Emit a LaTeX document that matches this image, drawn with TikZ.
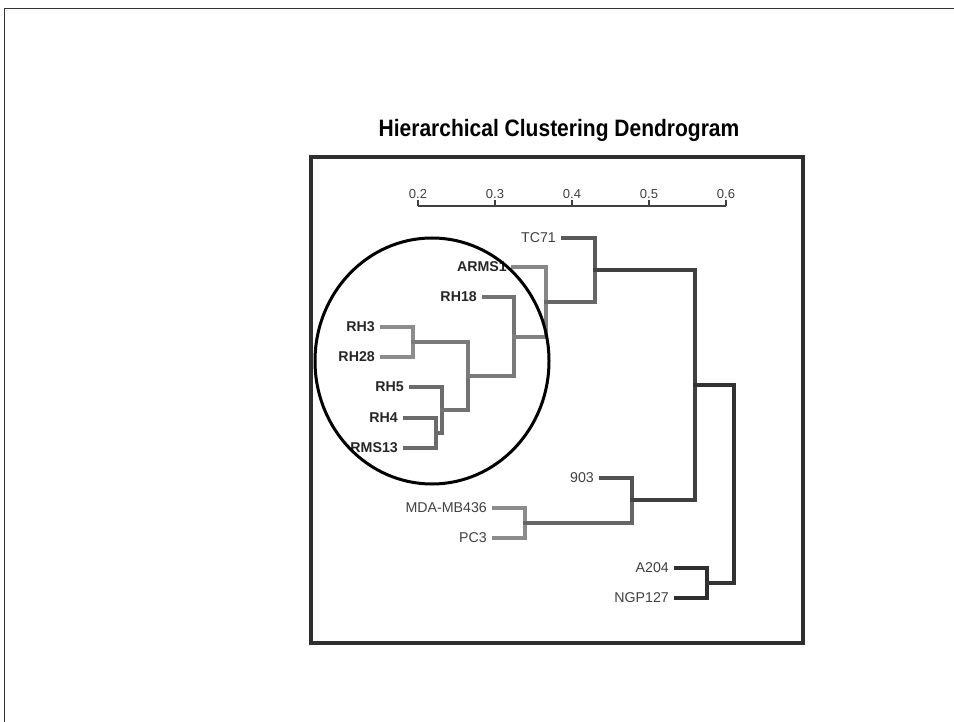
\documentclass[tikz,border=0pt]{standalone}
\usepackage{fontspec}
\setmainfont{Liberation Sans}
\begin{document}
\begin{tikzpicture}[x=1pt,y=-1pt,
  lab/.style={anchor=east,inner sep=0pt,font=\fontsize{14.2}{14}\selectfont,text=black!75},
  blab/.style={lab,font=\fontsize{14.2}{14}\selectfont\bfseries,text=black!85},
  tlab/.style={anchor=base,inner sep=0pt,font=\fontsize{13}{13}\selectfont,text=black!75},
  br/.style={line width=3.2pt,line cap=rect,line join=miter},
  axisline/.style={line width=1.3pt,draw=black!75}]
\useasboundingbox (0,0) rectangle (954,722);
% outer thin border
\draw[line width=1.3pt,black!80] (4.5,722) -- (4.5,8.5) -- (954,8.5);
% title
\node[anchor=base,inner sep=0pt,font=\fontsize{21}{21}\selectfont\bfseries] (title) at (559,137) {\scalebox{1}[1.13]{Hierarchical Clustering Dendrogram}};
% frame
\draw[line width=4pt,black!82] (310.5,157.5) rectangle (802.5,642.5);
% axis
\coordinate (a2) at (418,206);
\coordinate (a6) at (726,206);
\draw[axisline] (a2) -- (a6);
\foreach \v/\x in {0.2/418,0.3/495,0.4/572,0.5/649,0.6/726}{
  \draw[axisline] (\x,206.5) -- (\x,200);
  \node[tlab] (t\x) at (\x,198.5) {\v};
}
% leaf start coordinates
\coordinate (ltc71) at (563,238);
\coordinate (larms1) at (513,267);
\coordinate (lrh18) at (484,297);
\coordinate (lrh3) at (382,327);
\coordinate (lrh28) at (382,357);
\coordinate (lrh5) at (411,387);
\coordinate (lrh4) at (405,418);
\coordinate (lrms13) at (405,448);
\coordinate (l903) at (601,478);
\coordinate (lmda) at (494,508);
\coordinate (lpc3) at (494,538);
\coordinate (la204) at (676,568);
\coordinate (lngp) at (676,598);
% labels
\node[lab] (tc71) at (556,238) {TC71};
\node[blab] (arms1) at (507,267) {ARMS1};
\node[blab] (rh18) at (477,297) {RH18};
\node[blab] (rh3) at (375,327) {RH3};
\node[blab] (rh28) at (375,357) {RH28};
\node[blab] (rh5) at (404,387) {RH5};
\node[blab] (rh4) at (398,418) {RH4};
\node[blab] (rms13) at (398,448) {RMS13};
\node[lab] (n903) at (594,478) {903};
\node[lab] (mda) at (487,508) {MDA-MB436};
\node[lab] (pc3) at (487,538) {PC3};
\node[lab] (a204) at (669,568) {A204};
\node[lab] (ngp) at (669,598) {NGP127};
% merge coordinates
\coordinate (m1) at (436,433);
\coordinate (m2) at (442,410);
\coordinate (m3) at (413,342);
\coordinate (m4) at (468,376);
\coordinate (m5) at (514,337);
\coordinate (m6) at (546,302);
\coordinate (m7) at (595,270);
\coordinate (m8) at (525,523);
\coordinate (m9) at (632,500);
\coordinate (m10) at (695,385);
\coordinate (m11) at (707,583);
\coordinate (m12) at (734,484);
% branches
\draw[br,black!58] (lrh4) -| (m1);
\draw[br,black!58] (lrms13) -| (m1);
\draw[br,black!58] (m1) -| (m2);
\draw[br,black!58] (lrh5) -| (m2);
\draw[br,black!45] (lrh3) -| (m3);
\draw[br,black!45] (lrh28) -| (m3);
\draw[br,black!52] (m3) -| (m4);
\draw[br,black!55] (m2) -| (m4);
\draw[br,black!55] (lrh18) -| (m5);
\draw[br,black!52] (m4) -| (m5);
\draw[br,black!47] (larms1) -| (m6);
\draw[br,black!50] (m5) -| (m6);
\draw[br,black!65] (ltc71) -| (m7);
\draw[br,black!60] (m6) -| (m7);
\draw[br,black!45] (lmda) -| (m8);
\draw[br,black!45] (lpc3) -| (m8);
\draw[br,black!68] (l903) -| (m9);
\draw[br,black!60] (m8) -| (m9);
\draw[br,black!75] (m7) -| (m10);
\draw[br,black!75] (m9) -| (m10);
\draw[br,black!82] (la204) -| (m11);
\draw[br,black!82] (lngp) -| (m11);
\draw[br,black!80] (m10) -| (m12);
\draw[br,black!80] (m11) -| (m12);
% circle
\draw[line width=3pt,black] (432,361) ellipse [x radius=117pt, y radius=123pt];
\end{tikzpicture}
\end{document}
